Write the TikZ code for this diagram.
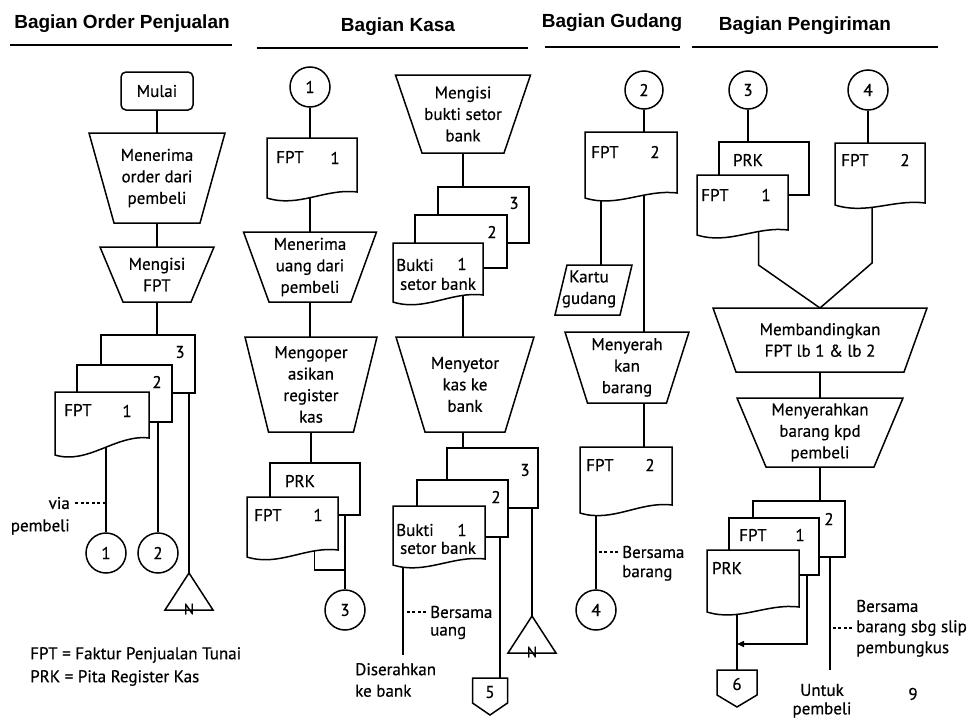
\documentclass[tikz,border=0pt]{standalone}
\usepackage{fontspec}
\setmainfont{PT Sans}[FakeBold=0.5]
\newfontfamily\hdrfont{Liberation Sans}
\usetikzlibrary{calc,arrows.meta,backgrounds}
\tikzset{
  shp/.style={draw=black, line width=1.5pt, fill=white, line join=miter},
  ln/.style={draw=black, line width=1.5pt},
  txt/.style={inner sep=0pt, font=\fontsize{17}{21.5}\selectfont, align=center},
  box/.style={inner sep=0pt, outer sep=0pt, rectangle},
  backdoc/.style={box, draw=black, line width=1.5pt, fill=white, anchor=north west},
  conn/.style={circle, draw=black, line width=1.5pt, fill=white, minimum size=40pt, inner sep=0pt, font=\fontsize{17}{18}\selectfont},
  hdr/.style={inner sep=0pt, font=\hdrfont\bfseries\fontsize{19}{22}\selectfont},
  uline/.style={line width=2.2pt},
  dsh/.style={line width=1.3pt, dash pattern=on 3pt off 2.5pt},
}
% front document with wavy bottom: name, x, y, w, left height, right height
\newcommand{\docf}[6]{%
  \draw[shp] (#2,#3) -- ++(#4,0) -- ++(0,#6) .. controls +(-0.35*#4,-4) and +(0.35*#4,10) .. (#2,#3+#5) -- cycle;
  \node[box, anchor=north west, minimum width=#4pt, minimum height=#5pt] (#1) at (#2,#3) {};
}
% document behind another one: name, x, y, w, h
\newcommand{\docb}[5]{%
  \node[backdoc, minimum width=#4pt, minimum height=#5pt] (#1) at (#2,#3) {};
}
% manual operation: name, cx, ytop, top width, bottom width, height, text
\newcommand{\trap}[7]{%
  \draw[shp] (#2-#4/2,#3) -- (#2+#4/2,#3) -- (#2+#5/2,#3+#6) -- (#2-#5/2,#3+#6) -- cycle;
  \node[box, txt, anchor=north, minimum width=#4pt, minimum height=#6pt] (#1) at (#2,#3) {#7};
}
% off-page connector: name, cx, ytop, width, text
\newcommand{\offp}[5]{%
  \draw[shp] (#2-#4/2,#3) -- (#2+#4/2,#3) -- (#2+#4/2,#3+25) -- (#2,#3+37) -- (#2-#4/2,#3+25) -- cycle;
  \node[box, txt, anchor=north, minimum width=#4pt, minimum height=28pt] (#1) at (#2,#3) {#5};
}
% file triangle: name, apex x, apex y
\newcommand{\triN}[3]{%
  \draw[shp] (#2,#3) -- (#2+24,#3+37) -- (#2-24,#3+37) -- cycle;
  \node[txt, font=\fontsize{15}{16}\selectfont] (#1) at (#2,#3+36) {N};
}
\newcommand{\lbl}[4]{\node[txt] (#1) at (#2,#3) {#4};}

\begin{document}
\begin{tikzpicture}[x=1pt,y=-1pt]
\useasboundingbox (0,0) rectangle (971,720);

% ---------- headers ----------
\node[hdr] (h1) at (122,24) {Bagian Order Penjualan};
\draw[uline] (10,45) -- (232,45);
\node[hdr] (h2) at (398,27) {Bagian Kasa};
\draw[uline] (257,48) -- (528,48);
\node[hdr] (h3) at (612,23) {Bagian Gudang};
\draw[uline] (545,47) -- (680,47);
\node[hdr] (h4) at (805,26) {Bagian Pengiriman};
\draw[uline] (692,47) -- (938,47);

% ---------- Bagian Order Penjualan ----------
\node[box, draw, line width=1.5pt, fill=white, rounded corners=5pt, minimum width=72pt, minimum height=38pt, txt] (mulai) at (157,91) {Mulai};
\trap{menerima}{157}{133}{136}{86}{90}{Menerima\\order dari\\pembeli}
\trap{mengisi}{157}{247}{114}{68}{55}{Mengisi\\FPT}
\docb{od3}{101}{335}{94}{58}
\lbl{od3n}{180}{352}{3}
\docb{od2}{77}{365}{95}{57}
\lbl{od2n}{157}{382}{2}
\docf{od1}{55}{392}{94}{63}{46}
\lbl{od1a}{78}{410}{FPT}
\lbl{od1n}{127}{411}{1}
\node[conn] (c1) at (106,553) {1};
\node[conn] (c2) at (158,553) {2};
\triN{n1}{189}{573}
\node[txt, anchor=east] (via) at (70,503) {via};
\node[txt, anchor=east] (viapemb) at (70,527) {pembeli};
\node[txt, anchor=west] (leg1) at (30,655) {FPT = Faktur Penjualan Tunai};
\node[txt, anchor=west] (leg2) at (30,678) {PRK = Pita Register Kas};

% ---------- Bagian Kasa (left) ----------
\node[conn] (c1k) at (310,87) {1};
\docf{kd1}{267}{138}{90}{60}{54}
\lbl{kd1a}{290}{157}{FPT}
\lbl{kd1n}{335}{158}{1}
\trap{menerima2}{310}{232}{133}{82}{70}{Menerima\\uang dari\\pembeli}
\trap{mengoper}{311}{337}{132}{85}{95}{Mengoper\\asikan\\register\\kas}
\docb{kprk}{270}{463}{90}{52}
\lbl{kprka}{300}{481}{PRK}
\docf{kfpt}{247}{497}{91}{60}{53}
\lbl{kfpta}{268}{515}{FPT}
\lbl{kfptn}{318}{515}{1}
\node[conn] (c3k) at (345,610) {3};

% ---------- Bagian Kasa (right) ----------
\trap{bukti}{463}{75}{135}{82}{78}{Mengisi\\bukti setor\\bank}
\docb{kb3}{438}{187}{91}{56}
\lbl{kb3n}{514}{203}{3}
\docb{kb2}{415}{215}{92}{53}
\lbl{kb2n}{492}{232}{2}
\docf{kb1}{393}{243}{90}{59}{52}
\lbl{kb1a}{415}{265}{Bukti}
\lbl{kb1n}{462}{264}{1}
\lbl{kb1b}{438}{284}{setor bank}
\trap{menyetor}{465}{337}{138}{80}{95}{Menyetor\\kas ke\\bank}
\docb{ks3}{447}{448}{91}{60}
\lbl{ks3n}{525}{470}{3}
\docb{ks2}{417}{480}{91}{57}
\lbl{ks2n}{496}{497}{2}
\docf{ks1}{393}{506}{92}{59}{53}
\lbl{ks1a}{415}{530}{Bukti}
\lbl{ks1n}{462}{530}{1}
\lbl{ks1b}{438}{548}{setor bank}
\coordinate (diser) at (403,655);
\node[txt, align=left, anchor=west] (diserlbl) at (355,680) {Diserahkan\\ke bank};
\node[txt, anchor=west] (bersk) at (430,612) {Bersama};
\node[txt, anchor=west] (uangk) at (430,633) {uang};
\offp{off5}{490}{678}{35}{5}
\coordinate (k5) at ($(off5.north)+(10,0)$);
\triN{n2}{532}{616}

% ---------- Bagian Gudang ----------
\node[conn, minimum size=38pt] (c2g) at (644,90) {2};
\docf{gd1}{585}{132}{92}{66}{61}
\lbl{gd1a}{605}{152}{FPT}
\lbl{gd1n}{655}{152}{2}
\draw[shp] (567,265) -- (632,265) -- (620,315) -- (555,315) -- cycle;
\node[txt] (kartu) at (589,289) {Kartu\\gudang};
\coordinate (kx) at (601,290);
\trap{menyerah}{627}{332}{124}{79}{71}{Menyerah\\kan\\barang}
\docf{gd2}{580}{447}{92}{66}{58}
\lbl{gd2a}{600}{465}{FPT}
\lbl{gd2n}{650}{465}{2}
\node[conn] (c4g) at (596,610) {4};
\node[txt, anchor=west] (bersg) at (622,552) {Bersama};
\node[txt, anchor=west] (barangg) at (622,573) {barang};

% ---------- Bagian Pengiriman ----------
\node[conn, minimum size=38pt] (c3p) at (748,90) {3};
\node[conn] (c4p) at (868,90) {4};
\docb{pprk}{719}{142}{90}{53}
\lbl{pprka}{748}{160}{PRK}
\docf{pfpt1}{697}{175}{91}{60}{55}
\lbl{pfpt1a}{715}{195}{FPT}
\lbl{pfpt1n}{766}{195}{1}
\docf{pfpt2}{835}{143}{90}{62}{60}
\lbl{pfpt2a}{855}{160}{FPT}
\lbl{pfpt2n}{905}{160}{2}
\trap{banding}{820}{308}{214}{168}{64}{Membandingkan\\FPT lb 1 \& lb 2}
\trap{serahkan}{820}{398}{166}{108}{69}{Menyerahkan\\barang kpd\\pembeli}
\docb{pd2}{753}{501}{92}{56}
\lbl{pd2n}{829}{519}{2}
\docb{pd1}{729}{518}{90}{57}
\lbl{pd1a}{753}{535}{FPT}
\lbl{pd1n}{800}{535}{1}
\docf{pprkf}{707}{550}{92}{62}{57}
\lbl{pprkfa}{727}{568}{PRK}
\offp{off6}{737}{670}{40}{6}
\coordinate (pend) at (830,670);
\node[txt, anchor=west] (bersp) at (856,606) {Bersama};
\node[txt, anchor=west] (bsbg) at (856,628) {barang sbg slip};
\node[txt, anchor=west] (pembp) at (856,649) {pembungkus};
\node[txt] (untuk) at (822,690) {Untuk};
\node[txt] (untukp) at (822,710) {pembeli};
\node[txt] (pg) at (913,694) {9};

% ---------- connectors ----------
\begin{pgfonlayer}{background}
% order
\draw[ln] (mulai) -- (menerima);
\draw[ln] (menerima) -- (mengisi);
\draw[ln] (mengisi) -- (mengisi |- od3);
\draw[ln] (c1 |- od1) -- (c1);
\draw[ln] (c2 |- od2) -- (c2);
\draw[ln] (n1 |- od3) -- (n1);
\draw[dsh] ($(via.east)+(5,0)$) -- (via.east -| c1);
% kasa left
\draw[ln] (c1k) -- (c1k |- mengoper);
\draw[ln] (mengoper) -- (mengoper |- kprk);
\draw[ln] (c3k |- kprk) -- (c3k);
\draw[ln] ($(kfpt.center)+(22,0)$) |- (c3k |- 0,570);
% kasa right
\draw[ln] (bukti) -- (bukti |- ks3);
\draw[ln] (diser |- ks1) -- (diser);
\draw[dsh] ($(bersk.west)+(-4,0)$) -- (bersk.west -| diser);
\draw[ln] (k5 |- ks2) -- (k5);
\draw[ln] (n2 |- ks3) -- (n2);
% gudang
\draw[ln] (c2g) -- (c2g |- gd2);
\draw[ln] (kx |- gd1) -- (kx);
\draw[ln] (c4g |- gd2) -- (c4g);
\draw[dsh] ($(bersg.west)+(-4,0)$) -- (bersg.west -| c4g);
% pengiriman
\draw[ln] (c3p) -- (c3p |- pprk);
\draw[ln] (c4p) -- (c4p |- pfpt2);
\draw[ln] ($(pfpt1.center)+(16,0)$) -- ($(pfpt1.south)+(16,30)$) -- (banding.north) -- ($(pfpt2.south)+(-8,58)$) -- ($(pfpt2.center)+(-8,0)$);
\draw[ln] (banding) -- (serahkan);
\draw[ln] (serahkan) -- (serahkan |- pd2);
\draw[ln] (off6 |- pprkf) -- (off6);
\draw[ln, -{Triangle[length=7pt,width=6pt]}] ($(pd1.center)+(33,0)$) |- ($(off6.north)+(0,-26)$);
\draw[ln] (pend |- pd2) -- (pend);
\draw[dsh] ($(bsbg.west)+(-4,0)$) -- (bsbg.west -| pend);
\end{pgfonlayer}
\end{tikzpicture}
\end{document}
